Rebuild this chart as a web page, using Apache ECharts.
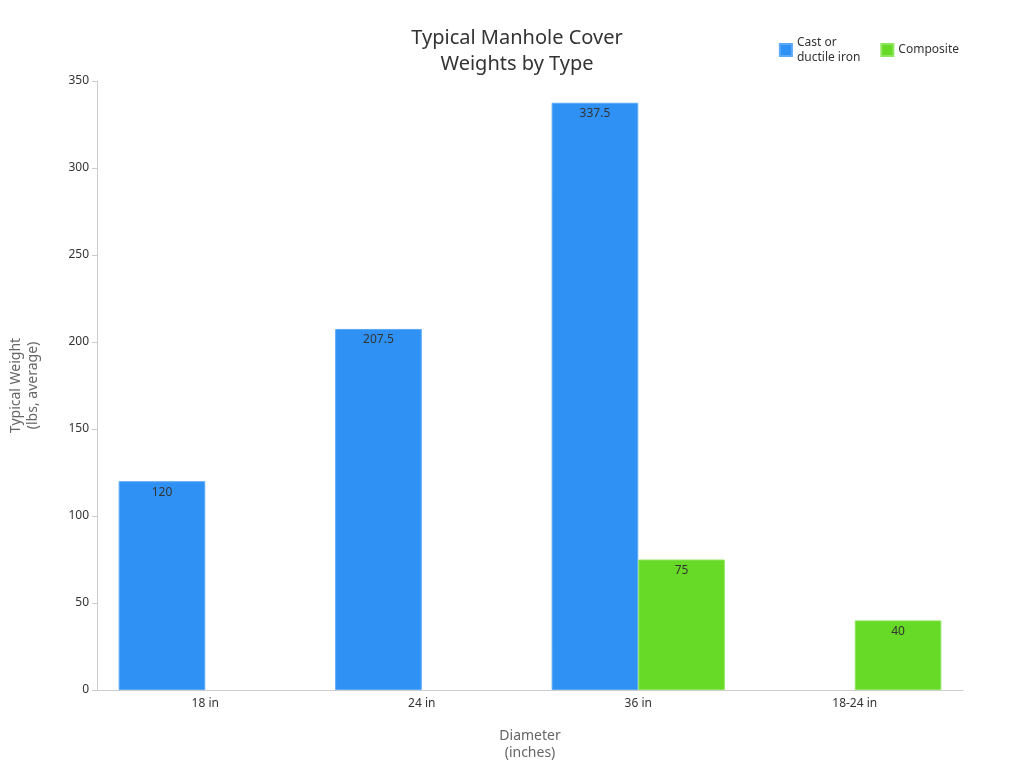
<!DOCTYPE html>
<html><head><meta charset="utf-8">
<script src="https://cdn.jsdelivr.net/npm/echarts@6/dist/echarts.min.js"></script>
<style>html,body{margin:0;padding:0;background:#fff}#c{width:1024px;height:768px}</style>
</head><body><div id="c"></div>
<script>
const categories = ['18 in','24 in','36 in','18-24 in'];
const ironValues = [120, 207.5, 337.5, null];
const compositeValues = [null, null, 75, 40];
const yTicks = {min:0, max:350, interval:50};

const chart = echarts.init(document.getElementById('c'));
const lbl = {show:true, position:'insideTop', color:'#333', fontSize:12, fontFamily:'Noto Sans'};
chart.setOption({
  textStyle:{fontFamily:'Noto Sans'},
  title:{text:'Typical Manhole Cover\nWeights by Type', left:512, textAlign:'center', top:20,
    textStyle:{fontSize:20, fontWeight:'normal', color:'#333', lineHeight:26, fontFamily:'Noto Sans'}},
  legend:{right:60, top:30, itemWidth:12, itemHeight:12, icon:'rect', itemGap:20,
    textStyle:{fontSize:12, color:'#333', lineHeight:15},
    data:['Cast or\nductile iron','Composite']},
  grid:{left:86, right:61, top:81, bottom:78},
  xAxis:{type:'category', data:categories, name:'Diameter\n(inches)', nameLocation:'middle', nameGap:38,
    nameTextStyle:{fontSize:14, color:'#666', lineHeight:17},
    axisLine:{lineStyle:{color:'#ccc'}}, axisTick:{show:false},
    axisLabel:{color:'#333', fontSize:12}},
  yAxis:{type:'value', min:yTicks.min, max:yTicks.max, interval:yTicks.interval,
    name:'Typical Weight\n(lbs, average)', nameLocation:'middle', nameGap:55, nameRotate:90,
    nameTextStyle:{fontSize:14, color:'#666', lineHeight:17},
    axisLine:{show:true, lineStyle:{color:'#ccc'}}, axisTick:{show:true, lineStyle:{color:'#ccc'}},
    splitLine:{show:false}, axisLabel:{color:'#333', fontSize:12}},
  series:[
    {name:'Cast or\nductile iron', type:'bar', data:ironValues, barGap:'0%', barCategoryGap:'20%',
     itemStyle:{color:'#3091f5', borderColor:'#5aa8f7', borderWidth:1}, label:lbl},
    {name:'Composite', type:'bar', data:compositeValues,
     itemStyle:{color:'#66da26', borderColor:'#8ee65e', borderWidth:1}, label:lbl}
  ]
});
</script></body></html>
